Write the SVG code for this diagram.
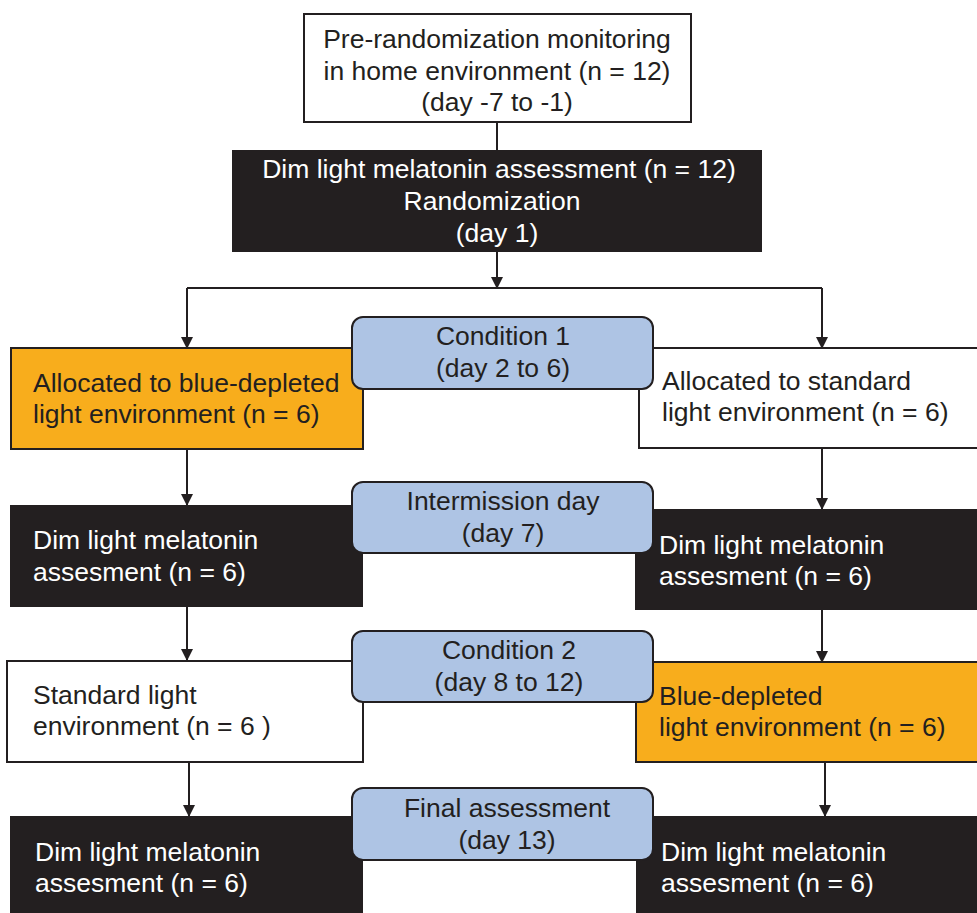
<svg xmlns="http://www.w3.org/2000/svg" width="977" height="913" viewBox="0 0 977 913">
<style>
text{font-family:"Liberation Sans",Arial,sans-serif;font-size:26.5px;fill:#231f20}
.c{text-anchor:middle}
.w{fill:#ffffff}
.box{stroke:#231f20;stroke-width:2}
.white{fill:#ffffff}
.dark{fill:#231f20}
.orange{fill:#f8ad1c}
.blue{fill:#aec4e4}
.ln{stroke:#231f20;stroke-width:2;fill:none}
</style>
<defs>
<marker id="ah" markerUnits="userSpaceOnUse" markerWidth="12" markerHeight="12" refX="11" refY="6" orient="auto">
<path d="M0,0 L12,6 L0,12 z" fill="#231f20"/>
</marker>
</defs>
<rect width="977" height="913" fill="#ffffff"/>
<g id="connectors">
<line class="ln" x1="497" y1="122" x2="497" y2="150"/>
<line class="ln" x1="497" y1="252" x2="497" y2="288" marker-end="url(#ah)"/>
<polyline class="ln" points="187,288 822,288"/>
<line class="ln" x1="187" y1="288" x2="187" y2="348" marker-end="url(#ah)"/>
<line class="ln" x1="822" y1="288" x2="822" y2="348" marker-end="url(#ah)"/>
<line class="ln" x1="187" y1="449" x2="187" y2="505" marker-end="url(#ah)"/>
<line class="ln" x1="822" y1="448" x2="822" y2="509" marker-end="url(#ah)"/>
<line class="ln" x1="187" y1="607" x2="187" y2="660" marker-end="url(#ah)"/>
<line class="ln" x1="822" y1="610" x2="822" y2="662" marker-end="url(#ah)"/>
<line class="ln" x1="189" y1="762" x2="189" y2="816" marker-end="url(#ah)"/>
<line class="ln" x1="825" y1="762" x2="825" y2="816" marker-end="url(#ah)"/>
</g>
<g id="n_pre">
<rect class="box white" x="304" y="14" width="387" height="108"/>
<text class="c" x="497" y="48">Pre-randomization monitoring</text>
<text class="c" x="497" y="80">in home environment (n = 12)</text>
<text class="c" x="497" y="111">(day -7 to -1)</text>
</g>
<g id="n_rand">
<rect class="dark" x="232" y="150" width="530" height="102"/>
<text class="c w" x="499" y="178">Dim light melatonin assessment (n = 12)</text>
<text class="c w" x="492" y="210">Randomization</text>
<text class="c w" x="497" y="242">(day 1)</text>
</g>
<g id="n_alloc_blue">
<rect class="box orange" x="11" y="348" width="352" height="101"/>
<text x="33" y="392">Allocated to blue-depleted</text>
<text x="33" y="423">light environment (n = 6)</text>
</g>
<g id="n_alloc_std">
<rect class="box white" x="639" y="348" width="346" height="100"/>
<text x="662" y="390">Allocated to standard</text>
<text x="662" y="421">light environment (n = 6)</text>
</g>
<g id="n_dlm_l1">
<rect class="dark" x="10" y="505" width="353" height="102"/>
<text class="w" x="33" y="549">Dim light melatonin</text>
<text class="w" x="33" y="581">assesment (n = 6)</text>
</g>
<g id="n_dlm_r1">
<rect class="dark" x="635" y="509" width="350" height="101"/>
<text class="w" x="659" y="554">Dim light melatonin</text>
<text class="w" x="659" y="585">assesment (n = 6)</text>
</g>
<g id="n_std_l">
<rect class="box white" x="7" y="661" width="356" height="101"/>
<text x="33" y="704">Standard light</text>
<text x="33" y="735">environment (n = 6 )</text>
</g>
<g id="n_blue_r">
<rect class="box orange" x="636" y="662" width="349" height="100"/>
<text x="659" y="705">Blue-depleted</text>
<text x="659" y="736">light environment (n = 6)</text>
</g>
<g id="n_dlm_l2">
<rect class="dark" x="10" y="816" width="353" height="100"/>
<text class="w" x="35" y="861">Dim light melatonin</text>
<text class="w" x="35" y="892">assesment (n = 6)</text>
</g>
<g id="n_dlm_r2">
<rect class="dark" x="636" y="816" width="349" height="100"/>
<text class="w" x="661" y="861">Dim light melatonin</text>
<text class="w" x="661" y="892">assesment (n = 6)</text>
</g>
<g id="n_cond1">
<rect class="box blue" x="352" y="317" width="301" height="72" rx="11"/>
<text class="c" x="503" y="345">Condition 1</text>
<text class="c" x="503" y="377">(day 2 to 6)</text>
</g>
<g id="n_inter">
<rect class="box blue" x="352" y="482" width="301" height="71" rx="11"/>
<text class="c" x="503" y="510">Intermission day</text>
<text class="c" x="503" y="542">(day 7)</text>
</g>
<g id="n_cond2">
<rect class="box blue" x="352" y="631" width="301" height="71" rx="11"/>
<text class="c" x="509" y="659">Condition 2</text>
<text class="c" x="509" y="691">(day 8 to 12)</text>
</g>
<g id="n_final">
<rect class="box blue" x="352" y="788" width="301" height="72" rx="11"/>
<text class="c" x="507" y="817">Final assessment</text>
<text class="c" x="507" y="849">(day 13)</text>
</g>
</svg>
